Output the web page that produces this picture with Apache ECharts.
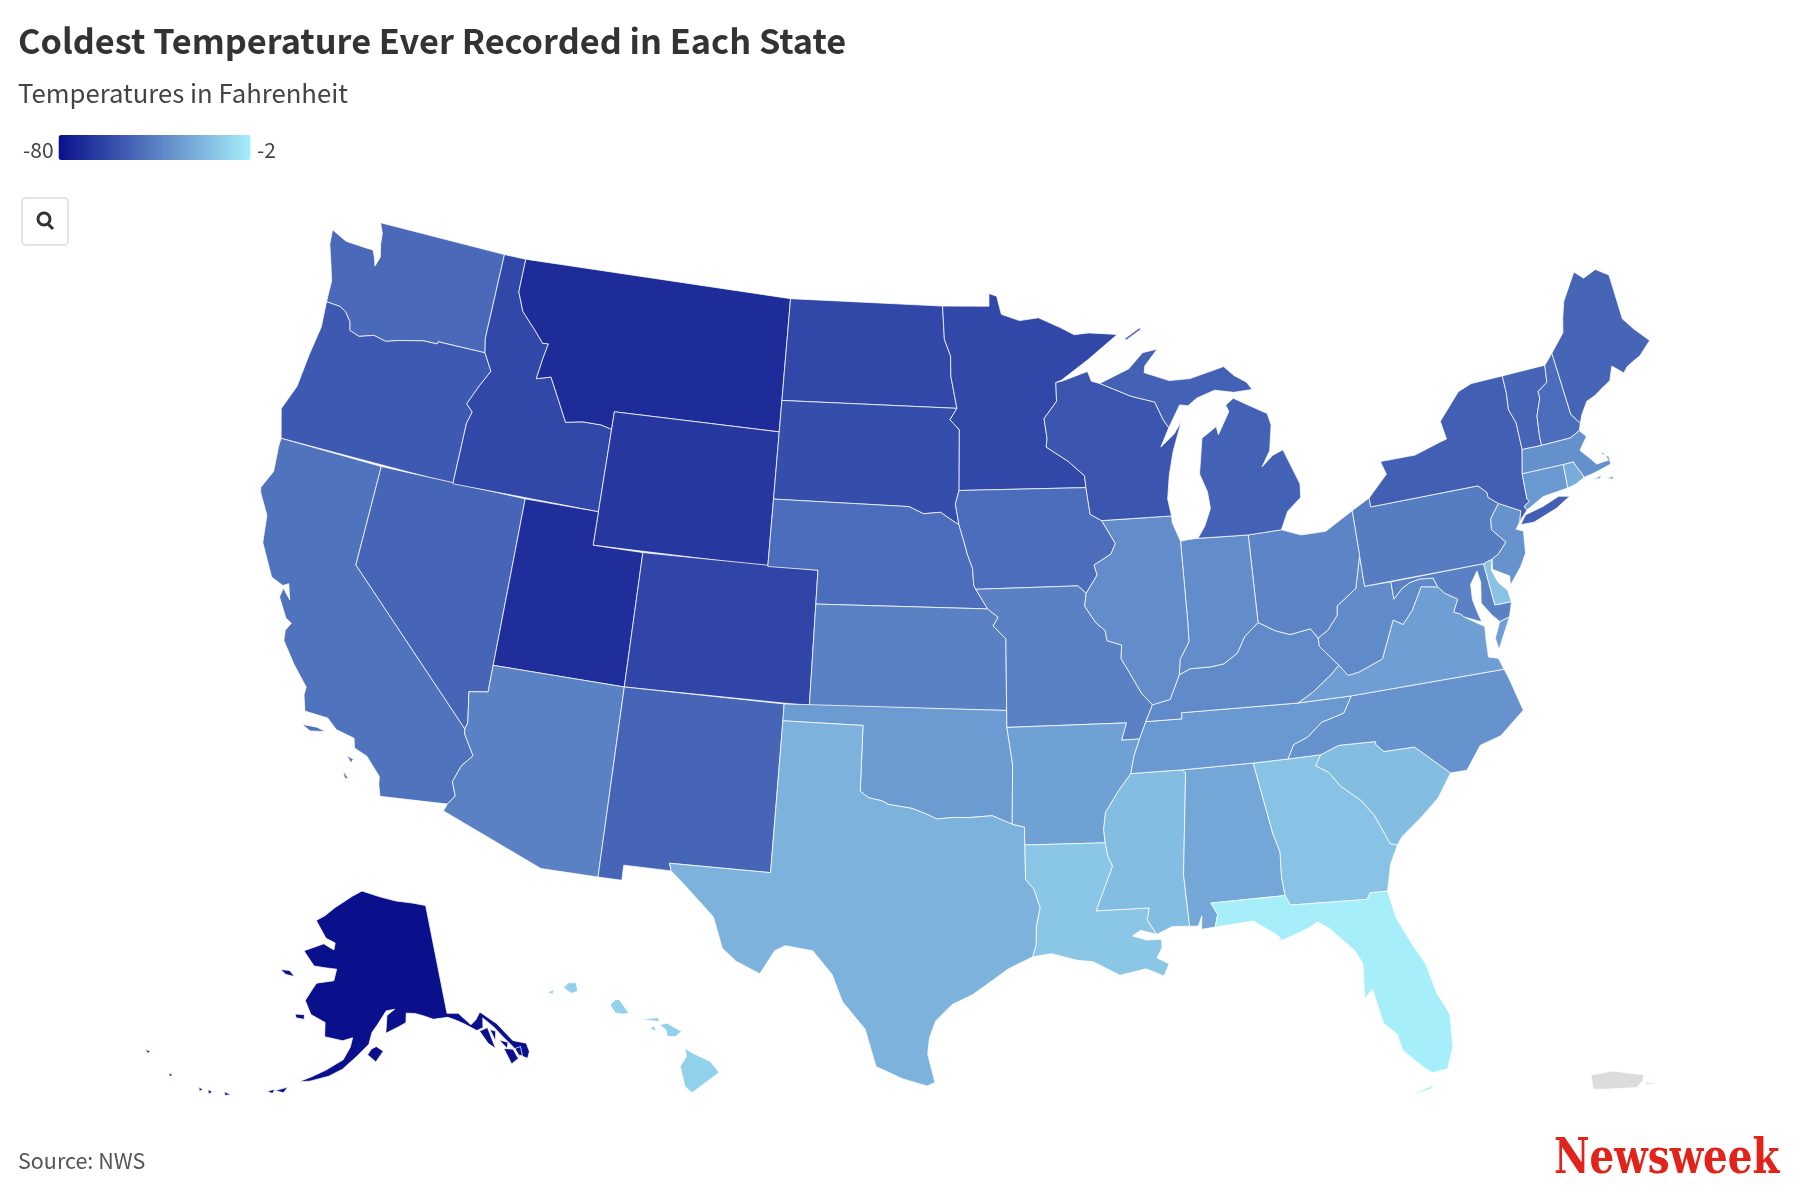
<!DOCTYPE html>
<html>
<head>
<meta charset="utf-8">
<script src="https://cdn.jsdelivr.net/npm/echarts@6/dist/echarts.min.js"></script>
<style>
  html, body { margin: 0; background: #fff; }
  #chart { width: 1800px; height: 1199px; }
</style>
</head>
<body>
<div id="chart"></div>
<script>
var stateNames = ['Alabama','Alaska','Arizona','Arkansas','California','Colorado','Connecticut','Delaware','Florida','Georgia','Hawaii','Idaho','Illinois','Indiana','Iowa','Kansas','Kentucky','Louisiana','Maine','Maryland','Massachusetts','Michigan','Minnesota','Mississippi','Missouri','Montana','Nebraska','Nevada','New Hampshire','New Jersey','New Mexico','New York','North Carolina','North Dakota','Ohio','Oklahoma','Oregon','Pennsylvania','Rhode Island','South Carolina','South Dakota','Tennessee','Texas','Utah','Vermont','Virginia','Washington','West Virginia','Wisconsin','Wyoming'];
var coldestTemps = [-27,-80,-40,-29,-45,-61,-32,-17,-2,-17,-12,-60,-36,-36,-47,-40,-37,-16,-50,-40,-35,-51,-60,-19,-40,-70,-47,-50,-47,-34,-50,-52,-34,-60,-39,-31,-54,-42,-25,-19,-58,-32,-23,-69,-50,-30,-48,-37,-55,-66];
var scaleMin = -80;
var scaleMax = -2;

// state outlines in lon,lat
var stateShapes = {
  'Washington': ['-122.76,49 -117.03,49 -117.04,46.42 -116.92,46 -118.98,46 -119,45.93 -119.6,45.92 -120.6,45.75 -121.15,45.62 -121.7,45.7 -122.3,45.55 -122.75,45.65 -122.85,45.9 -123.15,46.15 -123.45,46.25 -124.05,46.27 -124.1,46.9 -124.3,47.3 -124.65,47.95 -124.72,48.38 -124,48.17 -123.1,48.15 -122.75,48.15 -122.6,47.95 -122.47,47.7 -122.35,48 -122.5,48.4 -122.55,48.7'],
  'Oregon': ['-124.2,42 -117.03,42 -117.03,43.83 -116.9,44.2 -117.2,44.4 -116.85,45 -116.5,45.5 -116.92,46 -118.98,46 -119,45.93 -119.6,45.92 -120.6,45.75 -121.15,45.62 -121.7,45.7 -122.3,45.55 -122.75,45.65 -122.85,45.9 -123.15,46.15 -123.45,46.25 -124.05,46.27 -123.95,45.5 -124.1,44.6 -124.2,43.6 -124.55,42.84'],
  'California': ['-124.2,42 -120,42 -120,39 -114.63,35 -114.6,34.85 -114.15,34.27 -114.5,33.9 -114.7,33.4 -114.5,33 -114.72,32.72 -117.12,32.53 -117.25,32.85 -117.3,33.1 -117.9,33.6 -118.4,33.75 -118.5,34.03 -119.2,34.15 -119.6,34.42 -120.47,34.45 -120.65,34.9 -120.65,35.15 -121.3,35.7 -121.9,36.3 -121.95,36.6 -121.8,36.85 -122.05,36.95 -122.5,37.5 -122.45,37.78 -122.1,37.5 -122.3,37.95 -122.5,37.85 -123,38 -123.7,38.9 -123.85,39.7 -124.35,40.3 -124.4,40.44 -124.1,41 -124.2,41.75',
    '-120.45,34.05 -119.9,34.08 -119.55,34.02 -120.1,33.92', '-118.6,33.48 -118.35,33.42 -118.4,33.3', '-118.6,33.02 -118.35,32.82 -118.5,32.82'],
  'Nevada': ['-120,42 -114.05,42 -114.05,36.2 -114.75,36.1 -114.57,35.2 -114.63,35 -120,39'],
  'Idaho': ['-117.03,49 -116.05,49 -116.05,48 -115.7,47.45 -114.95,46.92 -114.58,46.63 -114.33,46.65 -114.45,46.15 -114.55,45.56 -113.95,45.69 -113.45,45.05 -113,44.45 -112.3,44.55 -111.5,44.55 -111.05,44.47 -111.05,42 -117.03,42 -117.03,43.83 -116.9,44.2 -117.2,44.4 -116.85,45 -116.5,45.5 -116.92,46 -117.04,46.42'],
  'Montana': ['-116.05,49 -104.05,49 -104.05,45 -111.05,45 -111.05,44.47 -111.5,44.55 -112.3,44.55 -113,44.45 -113.45,45.05 -113.95,45.69 -114.55,45.56 -114.45,46.15 -114.33,46.65 -114.58,46.63 -114.95,46.92 -115.7,47.45 -116.05,48'],
  'Wyoming': ['-111.05,45 -104.05,45 -104.05,41 -111.05,41'],
  'Utah': ['-114.05,42 -111.05,42 -111.05,41 -109.05,41 -109.05,37 -114.05,37'],
  'Colorado': ['-109.05,41 -102.05,41 -102.05,37 -109.05,37'],
  'Arizona': ['-114.05,37 -109.05,37 -109.05,31.33 -111.07,31.33 -114.81,32.5 -114.72,32.72 -114.5,33 -114.7,33.4 -114.5,33.9 -114.15,34.27 -114.6,34.85 -114.63,35 -114.57,35.2 -114.75,36.1 -114.05,36.2'],
  'New Mexico': ['-109.05,37 -103,37 -103,36.5 -103.04,32 -106.62,32 -106.53,31.78 -108.21,31.78 -108.21,31.33 -109.05,31.33'],
  'North Dakota': ['-104.05,49 -97.23,49 -97.13,48 -96.85,47.5 -96.83,46.9 -96.56,45.94 -104.05,45.94'],
  'South Dakota': ['-104.05,45.94 -96.56,45.94 -96.85,45.6 -96.45,45.3 -96.45,43.5 -96.6,43.1 -96.45,42.49 -96.7,42.6 -97.2,42.85 -97.9,42.8 -98.5,43 -104.05,43'],
  'Nebraska': ['-104.05,43 -98.5,43 -97.9,42.8 -97.2,42.85 -96.7,42.6 -96.45,42.49 -96.25,42 -96.1,41.6 -95.9,41.2 -95.85,40.7 -95.77,40.58 -95.31,40 -102.05,40 -102.05,41 -104.05,41'],
  'Kansas': ['-102.05,40 -95.31,40 -94.9,39.75 -95.1,39.5 -94.61,39.11 -94.62,37 -102.05,37'],
  'Oklahoma': ['-103,37 -94.62,37 -94.62,36.5 -94.43,35.4 -94.48,33.64 -95.2,33.9 -96,33.85 -96.6,33.85 -97.2,33.8 -97.6,33.95 -98.1,34.1 -98.95,34.2 -99.2,34.3 -99.7,34.38 -100,34.56 -100,36.5 -103,36.5'],
  'Texas': ['-103,36.5 -100,36.5 -100,34.56 -99.7,34.38 -99.2,34.3 -98.95,34.2 -98.1,34.1 -97.6,33.95 -97.2,33.8 -96.6,33.85 -96,33.85 -95.2,33.9 -94.48,33.64 -94.04,33.55 -94.04,33.02 -94.04,32 -93.75,31.7 -93.55,31.15 -93.7,30.6 -93.72,30.05 -93.85,29.7 -94.7,29.35 -95.1,29.1 -95.9,28.6 -96.6,28.3 -97.15,27.8 -97.35,27.3 -97.4,26.8 -97.15,25.96 -97.4,25.85 -98.2,26.05 -99.1,26.4 -99.5,27.5 -100.3,28.3 -100.7,29.1 -101.4,29.77 -102.35,29.87 -102.7,29.7 -103.15,28.98 -104,29.3 -104.5,29.65 -104.9,30.55 -106,31.4 -106.53,31.78 -106.62,32 -103.04,32'],
  'Minnesota': ['-97.23,49 -95.15,49 -95.15,49.38 -94.8,49.3 -94.6,48.75 -93.8,48.55 -92.95,48.62 -92,48.3 -91.4,48.07 -90.75,48.1 -89.5,48 -90.85,47.3 -92.05,46.72 -92.29,46.66 -92.29,46.1 -92.85,45.6 -92.75,45 -92.8,44.75 -91.9,44.3 -91.25,43.85 -91.22,43.5 -96.45,43.5 -96.45,45.3 -96.85,45.6 -96.56,45.94 -96.83,46.9 -96.85,47.5 -97.13,48'],
  'Iowa': ['-96.45,43.5 -91.22,43.5 -91.1,42.7 -90.65,42.5 -90.15,41.8 -90.35,41.5 -91.05,41.2 -90.95,40.9 -91.42,40.38 -91.73,40.61 -95.77,40.58 -95.85,40.7 -95.9,41.2 -96.1,41.6 -96.25,42 -96.45,42.49 -96.6,43.1'],
  'Missouri': ['-95.77,40.58 -91.73,40.61 -91.42,40.38 -91.5,40 -91.1,39.5 -90.75,39.25 -90.7,38.95 -90.15,38.8 -90.2,38.4 -89.9,37.95 -89.5,37.33 -89.13,36.98 -89.42,36.5 -89.7,36 -90.37,36 -90.15,36.5 -94.62,36.5 -94.62,37 -94.61,39.11 -95.1,39.5 -94.9,39.75 -95.31,40'],
  'Arkansas': ['-94.62,36.5 -90.15,36.5 -90.37,36 -89.7,36 -89.95,35.5 -90.1,35 -90.6,34.5 -91.1,33.9 -91.2,33.4 -91.17,33 -94.04,33.02 -94.04,33.55 -94.48,33.64 -94.43,35.4'],
  'Louisiana': ['-94.04,33.02 -91.17,33 -91.1,32.6 -90.95,32.3 -91.6,31 -89.75,31 -89.85,30.65 -89.55,30.2 -90.1,30.35 -90.4,30.2 -89.9,30.05 -89.4,30.05 -89.4,29.8 -89.6,29.5 -89.2,29.3 -89.4,28.95 -90,29.2 -90.9,29.05 -91.8,29.5 -92.3,29.55 -93.2,29.78 -93.85,29.7 -93.72,30.05 -93.7,30.6 -93.55,31.15 -93.75,31.7 -94.04,32'],
  'Mississippi': ['-91.17,33 -91.2,33.4 -91.1,33.9 -90.6,34.5 -90.1,35 -88.2,35 -88.1,34.9 -88.47,31.9 -88.4,30.37 -89,30.4 -89.55,30.2 -89.85,30.65 -89.75,31 -91.6,31 -90.95,32.3 -91.1,32.6'],
  'Alabama': ['-88.2,35 -85.6,35 -85.18,32.87 -85,32.3 -85.05,31.55 -85,31 -87.6,31 -87.4,30.65 -87.52,30.28 -88,30.25 -87.95,30.65 -88.1,30.35 -88.4,30.37 -88.47,31.9 -88.1,34.9'],
  'Georgia': ['-85.6,35 -84.32,35 -83.1,35 -83.35,34.7 -82.9,34.45 -82.55,34 -81.9,33.5 -81.5,33 -81.1,32.1 -80.85,32.03 -81.2,31.5 -81.45,30.72 -82.05,30.75 -82.2,30.57 -84.86,30.7 -85,31 -85.05,31.55 -85,32.3 -85.18,32.87'],
  'Florida': ['-87.6,31 -85,31 -84.86,30.7 -82.2,30.57 -82.05,30.75 -81.45,30.72 -81.3,29.9 -80.9,29.05 -80.55,28.4 -80.35,27.5 -80.03,26.8 -80.12,25.8 -80.4,25.2 -80.9,25.15 -81.15,25.35 -81.75,25.95 -81.85,26.45 -82.25,26.85 -82.45,27.9 -82.75,27.65 -82.65,28.7 -82.85,29.1 -83.65,29.9 -84,30.1 -84.35,29.95 -85.3,29.68 -85.4,29.85 -86.2,30.35 -87.52,30.28 -87.4,30.65',
    '-80.4,25.15 -80.9,24.8 -81.8,24.55 -81.05,24.68'],
  'South Carolina': ['-83.35,34.7 -83.1,35 -82.4,35.2 -81.05,35.15 -81.05,35.05 -80.8,34.82 -79.67,34.8 -78.55,33.86 -79.15,33.2 -79.9,32.7 -80.65,32.25 -80.85,32.03 -81.1,32.1 -81.5,33 -81.9,33.5 -82.55,34 -82.9,34.45'],
  'North Carolina': ['-84.32,35 -84.05,35.4 -83.5,35.57 -82.9,35.95 -82.4,36.05 -82.05,36.12 -81.68,36.59 -75.87,36.55 -75.75,36.2 -75.5,35.25 -76.5,34.65 -77.3,34.5 -77.95,33.85 -78.55,33.86 -79.67,34.8 -80.8,34.82 -81.05,35.05 -81.05,35.15 -82.4,35.2 -83.1,35'],
  'Tennessee': ['-90.1,35 -88.2,35 -85.6,35 -84.32,35 -84.05,35.4 -83.5,35.57 -82.9,35.95 -82.4,36.05 -82.05,36.12 -81.68,36.59 -83.68,36.6 -88.07,36.68 -88.07,36.5 -89.42,36.5 -89.7,36 -89.95,35.5'],
  'Kentucky': ['-89.42,36.5 -88.07,36.5 -88.07,36.68 -83.68,36.6 -83.1,36.85 -82.3,37.3 -81.97,37.54 -82.6,38.17 -82.6,38.42 -82.85,38.72 -83.65,38.63 -84.2,38.8 -84.82,39.1 -85.4,38.73 -85.75,38.27 -86.3,38 -86.8,37.95 -87.6,37.95 -88.03,37.8 -88.45,37.1 -89.13,36.98'],
  'Virginia': ['-83.68,36.6 -81.68,36.59 -75.87,36.55 -76,36.9 -76.35,37 -76.3,37.55 -76.25,37.9 -76.95,38.3 -77.05,38.4 -77.3,38.5 -77.05,38.85 -77.5,39.1 -77.72,39.32 -78.35,39.42 -78.87,38.77 -79.3,38.42 -79.65,38.6 -80.3,37.52 -81.25,37.25 -81.68,37.2 -81.97,37.54 -82.3,37.3 -83.1,36.85',
    '-75.65,37.95 -75.25,38.03 -75.9,37.15 -75.95,37.5'],
  'West Virginia': ['-82.6,38.42 -82.2,38.6 -81.75,39 -81.7,39.27 -80.87,39.7 -80.52,40.64 -80.52,39.72 -79.48,39.72 -79.48,39.2 -79.1,39.47 -78.75,39.6 -78.35,39.65 -77.83,39.6 -77.72,39.32 -78.35,39.42 -78.87,38.77 -79.3,38.42 -79.65,38.6 -80.3,37.52 -81.25,37.25 -81.68,37.2 -81.97,37.54 -82.6,38.17'],
  'Maryland': ['-79.48,39.72 -75.79,39.72 -75.7,38.46 -75.05,38.45 -75.25,38.03 -75.65,37.95 -75.9,38.2 -76.2,38.6 -76.05,39.2 -76.1,39.55 -76.45,39.2 -76.5,38.75 -76.4,38.3 -76.32,38.05 -76.95,38.3 -77.05,38.4 -77.3,38.5 -77.05,38.85 -77.5,39.1 -77.72,39.32 -77.83,39.6 -78.35,39.65 -78.75,39.6 -79.1,39.47 -79.48,39.2'],
  'Delaware': ['-75.79,39.72 -75.42,39.8 -75.55,39.5 -75.4,39.1 -75.1,38.8 -75.05,38.45 -75.7,38.46'],
  'Pennsylvania': ['-80.52,41.98 -79.76,42.27 -79.76,42 -75.35,42 -75.05,41.75 -75.05,41.6 -74.7,41.36 -75.13,40.97 -75.2,40.65 -74.75,40.2 -75.15,39.9 -75.42,39.8 -75.79,39.72 -80.52,39.72'],
  'New Jersey': ['-74.7,41.36 -73.9,41 -74.03,40.7 -74.25,40.5 -73.98,40.4 -74.1,39.75 -74.4,39.4 -74.95,38.93 -74.9,39.2 -75.5,39.5 -75.42,39.8 -75.15,39.9 -74.75,40.2 -75.2,40.65 -75.13,40.97'],
  'New York': ['-79.76,42 -79.76,42.27 -78.9,42.87 -79.05,43.27 -77.6,43.27 -76.5,43.5 -76.2,43.55 -76.3,44.1 -75.3,44.85 -74.7,45 -73.35,45.01 -73.35,44.5 -73.43,44 -73.25,43.55 -73.27,42.75 -73.5,42.05 -73.55,41.3 -73.48,41.21 -73.73,41.1 -73.65,40.98 -73.9,40.8 -74.03,40.7 -73.9,41 -74.7,41.36 -75.05,41.6 -75.05,41.75 -75.35,42',
    '-74.03,40.6 -73.75,40.85 -73,40.97 -72.3,41.15 -71.87,41.07 -72.5,40.82 -73.5,40.58'],
  'Vermont': ['-73.35,45.01 -71.5,45.01 -71.6,44.5 -72.05,44.3 -72.05,44.1 -72.35,43.6 -72.45,43 -72.46,42.73 -73.27,42.75 -73.25,43.55 -73.43,44 -73.35,44.5'],
  'New Hampshire': ['-71.5,45.01 -71.08,45.3 -70.98,43.4 -70.7,43.07 -70.82,42.87 -71.25,42.73 -72.46,42.73 -72.45,43 -72.35,43.6 -72.05,44.1 -72.05,44.3 -71.6,44.5'],
  'Maine': ['-71.08,45.3 -70.4,45.8 -70.25,46.2 -70,46.7 -69.23,47.46 -68.9,47.2 -68.3,47.35 -67.8,47.07 -67.8,45.7 -67.45,45.3 -66.97,44.85 -67.55,44.5 -67.9,44.4 -68.2,44.3 -68.4,44.15 -68.8,44.45 -69.05,44.05 -69.45,43.9 -69.8,43.75 -70.2,43.65 -70.35,43.5 -70.55,43.3 -70.7,43.07 -70.98,43.4'],
  'Massachusetts': ['-73.5,42.05 -73.27,42.75 -72.46,42.73 -71.25,42.73 -70.82,42.87 -70.6,42.65 -71,42.3 -70.65,41.95 -70.5,41.78 -70,41.8 -70.1,42.05 -70.25,42.07 -69.95,41.9 -69.95,41.67 -70.65,41.55 -71.12,41.5 -71.2,41.67 -71.33,41.9 -71.38,42.02 -71.8,42.02',
    '-70.83,41.36 -70.45,41.42 -70.5,41.35', '-70.25,41.3 -69.97,41.3 -70.05,41.22'],
  'Connecticut': ['-73.5,42.05 -71.8,42.02 -71.86,41.32 -72.9,41.25 -73.65,40.98 -73.73,41.1 -73.48,41.21 -73.55,41.3'],
  'Rhode Island': ['-71.8,42.02 -71.38,42.02 -71.33,41.9 -71.2,41.67 -71.12,41.5 -71.5,41.37 -71.86,41.32'],
  'Ohio': ['-84.82,39.1 -84.8,41.7 -83.45,41.73 -82.7,41.5 -81.7,41.5 -80.52,41.98 -80.52,40.64 -80.87,39.7 -81.7,39.27 -81.75,39 -82.2,38.6 -82.6,38.42 -82.85,38.72 -83.65,38.63 -84.2,38.8'],
  'Indiana': ['-87.53,41.72 -87.2,41.75 -86.82,41.76 -84.8,41.7 -84.82,39.1 -85.4,38.73 -85.75,38.27 -86.3,38 -86.8,37.95 -87.6,37.95 -88.03,37.8 -87.95,38.25 -87.55,38.75 -87.53,39.35'],
  'Illinois': ['-87.53,41.72 -87.8,42.3 -87.8,42.49 -90.65,42.5 -90.15,41.8 -90.35,41.5 -91.05,41.2 -90.95,40.9 -91.42,40.38 -91.5,40 -91.1,39.5 -90.75,39.25 -90.7,38.95 -90.15,38.8 -90.2,38.4 -89.9,37.95 -89.5,37.33 -89.13,36.98 -88.45,37.1 -88.03,37.8 -87.95,38.25 -87.55,38.75 -87.53,39.35'],
  'Wisconsin': ['-92.29,46.66 -92,46.7 -90.9,46.95 -90.75,46.65 -90.4,46.57 -89.1,46.13 -88.1,45.9 -87.8,45.35 -87.6,45.1 -88,44.55 -87.4,44.9 -87.05,45.25 -87.5,44.4 -87.75,43.7 -87.9,43 -87.8,42.49 -90.65,42.5 -91.1,42.7 -91.22,43.5 -91.25,43.85 -91.9,44.3 -92.8,44.75 -92.75,45 -92.85,45.6 -92.29,46.1'],
  'Michigan': ['-90.4,46.57 -89.1,46.95 -88.45,47.4 -87.8,47.47 -88.4,47 -88.45,46.8 -87.4,46.5 -86.5,46.5 -85,46.75 -84.6,46.45 -84.1,46.2 -83.9,45.97 -84.7,45.95 -85.5,46.08 -86.3,45.9 -86.7,45.7 -87.05,45.75 -87.6,45.1 -87.8,45.35 -88.1,45.9 -89.1,46.13',
    '-86.82,41.76 -86.5,42.1 -86.2,42.6 -86.25,43.1 -86.5,43.65 -86.25,44.7 -85.6,45 -85.55,44.75 -85,45.4 -85.1,45.6 -84.75,45.78 -84.1,45.5 -83.4,45.2 -83.3,44.85 -83.5,44.1 -83.9,43.65 -83.4,43.95 -82.95,44.07 -82.45,43 -82.5,42.6 -83.1,42.25 -83.45,41.73 -84.8,41.7',
    '-89.2,47.85 -88.5,48.15 -88.45,48.1 -89.1,47.82'],
  'Alaska': ['-141,69.65 -141,60.3 -139.1,60.1 -137.5,58.9 -136.5,59.2 -135.5,59.75 -134,58.8 -133.4,58.4 -131.8,56.6 -130,56 -130,55.25 -130.6,54.75 -131.7,55.3 -132,56 -133,57.1 -134,58.2 -135.3,59.2 -135.7,58.4 -136.8,58.3 -138.5,59.1 -139.7,59.55 -141,59.95 -143.5,60 -145,60.4 -146.5,60.7 -148,60.8 -148.2,60 -149.5,59.7 -151.7,59.2 -151.4,60.7 -150,61.2 -151.5,61.1 -153,60 -154,59.3 -154.5,58.3 -156.3,57.3 -158.5,56.1 -160.5,55.4 -163.2,54.8 -164.8,54.6 -163,55.2 -161,55.9 -158.5,56.9 -157.5,58 -157.2,58.8 -158.8,58.5 -161.8,58.7 -162,59.9 -164.6,60.4 -166,61.5 -165,62.6 -164.5,63.1 -161.3,63.5 -161,64.5 -163,64.5 -165.5,64.5 -168.1,65.6 -164.3,66.5 -162,66.1 -161.9,66.7 -164,67 -166.8,68.35 -165,68.9 -163,69.7 -159,70.85 -156.6,71.35 -152,70.85 -148,70.4 -144,70.05',
    '-154.7,57.4 -154.1,57.9 -153.3,58.1 -152.2,57.7 -153.4,56.8', '-171.7,63.6 -170,63.7 -168.8,63.3 -170.5,63.3', '-167.3,60.2 -165.7,60.3 -165.6,59.9 -167,59.9',
    '-136.4,58.2 -135,58.3 -134.7,56.4 -135.6,57', '-134.7,58.1 -133.9,57.8 -134.4,57', '-133.8,57 -132.6,56.6 -133,56.1', '-133.5,56.2 -132.2,55.9 -131.9,55 -133.1,54.75', '-131.9,55.9 -131,55.9 -131.2,55.1 -131.7,55.2',
    '-167.9,53.5 -166.2,54 -166.7,53.45', '-169,53.3 -168,53.6 -168.2,53.2', '-174.8,52.3 -173.8,52.2 -174.5,52', '-177,52 -176.3,51.95 -176.7,51.65', '-178.3,51.95 -177.7,51.85 -178,51.6', '-182.8,52.1 -182.2,52 -182.6,51.8', '-187.2,52.95 -186.5,53 -186.7,52.75'],
  'Hawaii': ['-159.75,22.05 -159.6,22.2 -159.35,22.2 -159.3,21.95 -159.5,21.88', '-160.25,21.9 -160.05,22 -160.1,21.85', '-158.27,21.55 -158.1,21.7 -157.98,21.71 -157.67,21.3 -157.85,21.27 -158.1,21.3', '-157.3,21.1 -156.75,21.17 -156.7,21.05 -157.25,21.1', '-157,20.85 -156.85,20.92 -156.82,20.75', '-156.7,20.95 -156.45,21 -156,20.75 -156.2,20.6 -156.45,20.6 -156.5,20.8', '-155.9,20.25 -155.65,20.1 -155.1,19.85 -154.82,19.52 -155.68,18.92 -155.9,19.1 -156.05,19.7 -155.85,20'],
  'Puerto Rico': ['-67.27,18.37 -66.6,18.49 -65.62,18.38 -65.65,18.2 -65.85,18 -66.8,17.95 -67.2,17.95', '-65.58,18.15 -65.27,18.15 -65.3,18.1 -65.55,18.09', '-65.33,18.34 -65.25,18.34 -65.28,18.29']
};

function toRing(str) {
  var ring = str.split(' ').map(function (p) {
    return p.split(',').map(Number);
  });
  ring.push(ring[0]);
  return ring;
}

var usaGeo = {
  type: 'FeatureCollection',
  features: Object.keys(stateShapes).map(function (name) {
    return {
      type: 'Feature',
      properties: { name: name },
      geometry: {
        type: 'MultiPolygon',
        coordinates: stateShapes[name].map(function (s) { return [toRing(s)]; })
      }
    };
  })
};

// conic equal area, same as an albers-usa layout
function conic(lat1, lat2, lon0, k, tx, ty) {
  var rad = Math.PI / 180;
  var n = (Math.sin(lat1 * rad) + Math.sin(lat2 * rad)) / 2;
  var c = Math.pow(Math.cos(lat1 * rad), 2) + 2 * n * Math.sin(lat1 * rad);
  return function (lon, lat) {
    var r = Math.sqrt(c - 2 * n * Math.sin(lat * rad)) / n;
    var t = n * (lon - lon0) * rad;
    return [tx + k * r * Math.sin(t), ty + k * r * Math.cos(t)];
  };
}
var lower48 = conic(29.5, 45.5, -96, 1925, 970, -1815);
var alaskaInset = conic(55, 65, -154, 674, 372, 635);
var hawaiiInset = conic(8, 18, -157, 1925, 650, -7046);

function project(p) {
  var lon = p[0], lat = p[1];
  if (lat >= 50 && lon <= -129.9) return alaskaInset(lon, lat);
  if (lat < 23 && lon < -150) return hawaiiInset(lon, lat);
  if (lat < 19 && lon > -68) return [1591 + 32 * (lon + 67.27), 1070 + 33.6 * (18.52 - lat)];
  return lower48(lon, lat);
}

var bx0 = Infinity, by0 = Infinity, bx1 = -Infinity, by1 = -Infinity;
usaGeo.features.forEach(function (f) {
  f.geometry.coordinates.forEach(function (poly) {
    poly[0].forEach(function (pt) {
      var q = project(pt);
      bx0 = Math.min(bx0, q[0]); bx1 = Math.max(bx1, q[0]);
      by0 = Math.min(by0, q[1]); by1 = Math.max(by1, q[1]);
    });
  });
});

echarts.registerMap('USA', usaGeo);

var font = '"Noto Sans CJK SC", "Noto Sans", sans-serif';
var chart = echarts.init(document.getElementById('chart'));

chart.setOption({
  animation: false,
  backgroundColor: '#fff',
  title: [
    { text: 'Coldest Temperature Ever Recorded in Each State', left: 13, top: 19, textStyle: { fontFamily: font, fontSize: 34.3, fontWeight: 'bold', color: '#333' } },
    { text: 'Temperatures in Fahrenheit', left: 13, top: 75, textStyle: { fontFamily: font, fontSize: 25.7, fontWeight: 'normal', color: '#444' } },
    { text: 'Source: NWS', left: 13, top: 1145, textStyle: { fontFamily: font, fontSize: 21.5, fontWeight: 'normal', color: '#555' } },
    { text: String(scaleMin), left: 18, top: 135, textStyle: { fontFamily: font, fontSize: 21, fontWeight: 'normal', color: '#444' } },
    { text: String(scaleMax), left: 252, top: 135, textStyle: { fontFamily: font, fontSize: 21, fontWeight: 'normal', color: '#444' } }
  ],
  visualMap: {
    type: 'continuous',
    min: scaleMin,
    max: scaleMax,
    orient: 'horizontal',
    left: 43.5,
    top: 120,
    itemWidth: 25,
    itemHeight: 192,
    showLabel: false,
    calculable: false,
    hoverLink: false,
    text: null,
    inRange: { color: ['#0a0f8c', '#a6eefa'] }
  },
  graphic: [
    { type: 'rect', shape: { x: 22, y: 198, width: 46, height: 47, r: 4 }, style: { fill: '#fff', stroke: '#e4e4e4', lineWidth: 2 } },
    { type: 'circle', shape: { cx: 44, cy: 219, r: 6 }, style: { fill: 'none', stroke: '#333', lineWidth: 3 } },
    { type: 'line', shape: { x1: 48, y1: 224, x2: 53, y2: 229 }, style: { stroke: '#333', lineWidth: 3 } },
    { type: 'text', x: 1554, y: 1137, scaleX: 0.81, style: { text: 'Newsweek', fill: '#e2231a', fontFamily: 'DejaVu Serif', fontWeight: 'bold', fontSize: 48 } }
  ],
  series: [{
    type: 'map',
    map: 'USA',
    projection: {
      project: project,
      unproject: function (p) { return p; }
    },
    left: bx0,
    top: by0,
    width: bx1 - bx0,
    height: by1 - by0,
    roam: false,
    silent: true,
    label: { show: false },
    itemStyle: { areaColor: '#dcdcdc', borderColor: 'rgba(255,255,255,0.75)', borderWidth: 1 },
    data: stateNames.map(function (name, i) {
      return { name: name, value: coldestTemps[i] };
    })
  }]
});
</script>
</body>
</html>
